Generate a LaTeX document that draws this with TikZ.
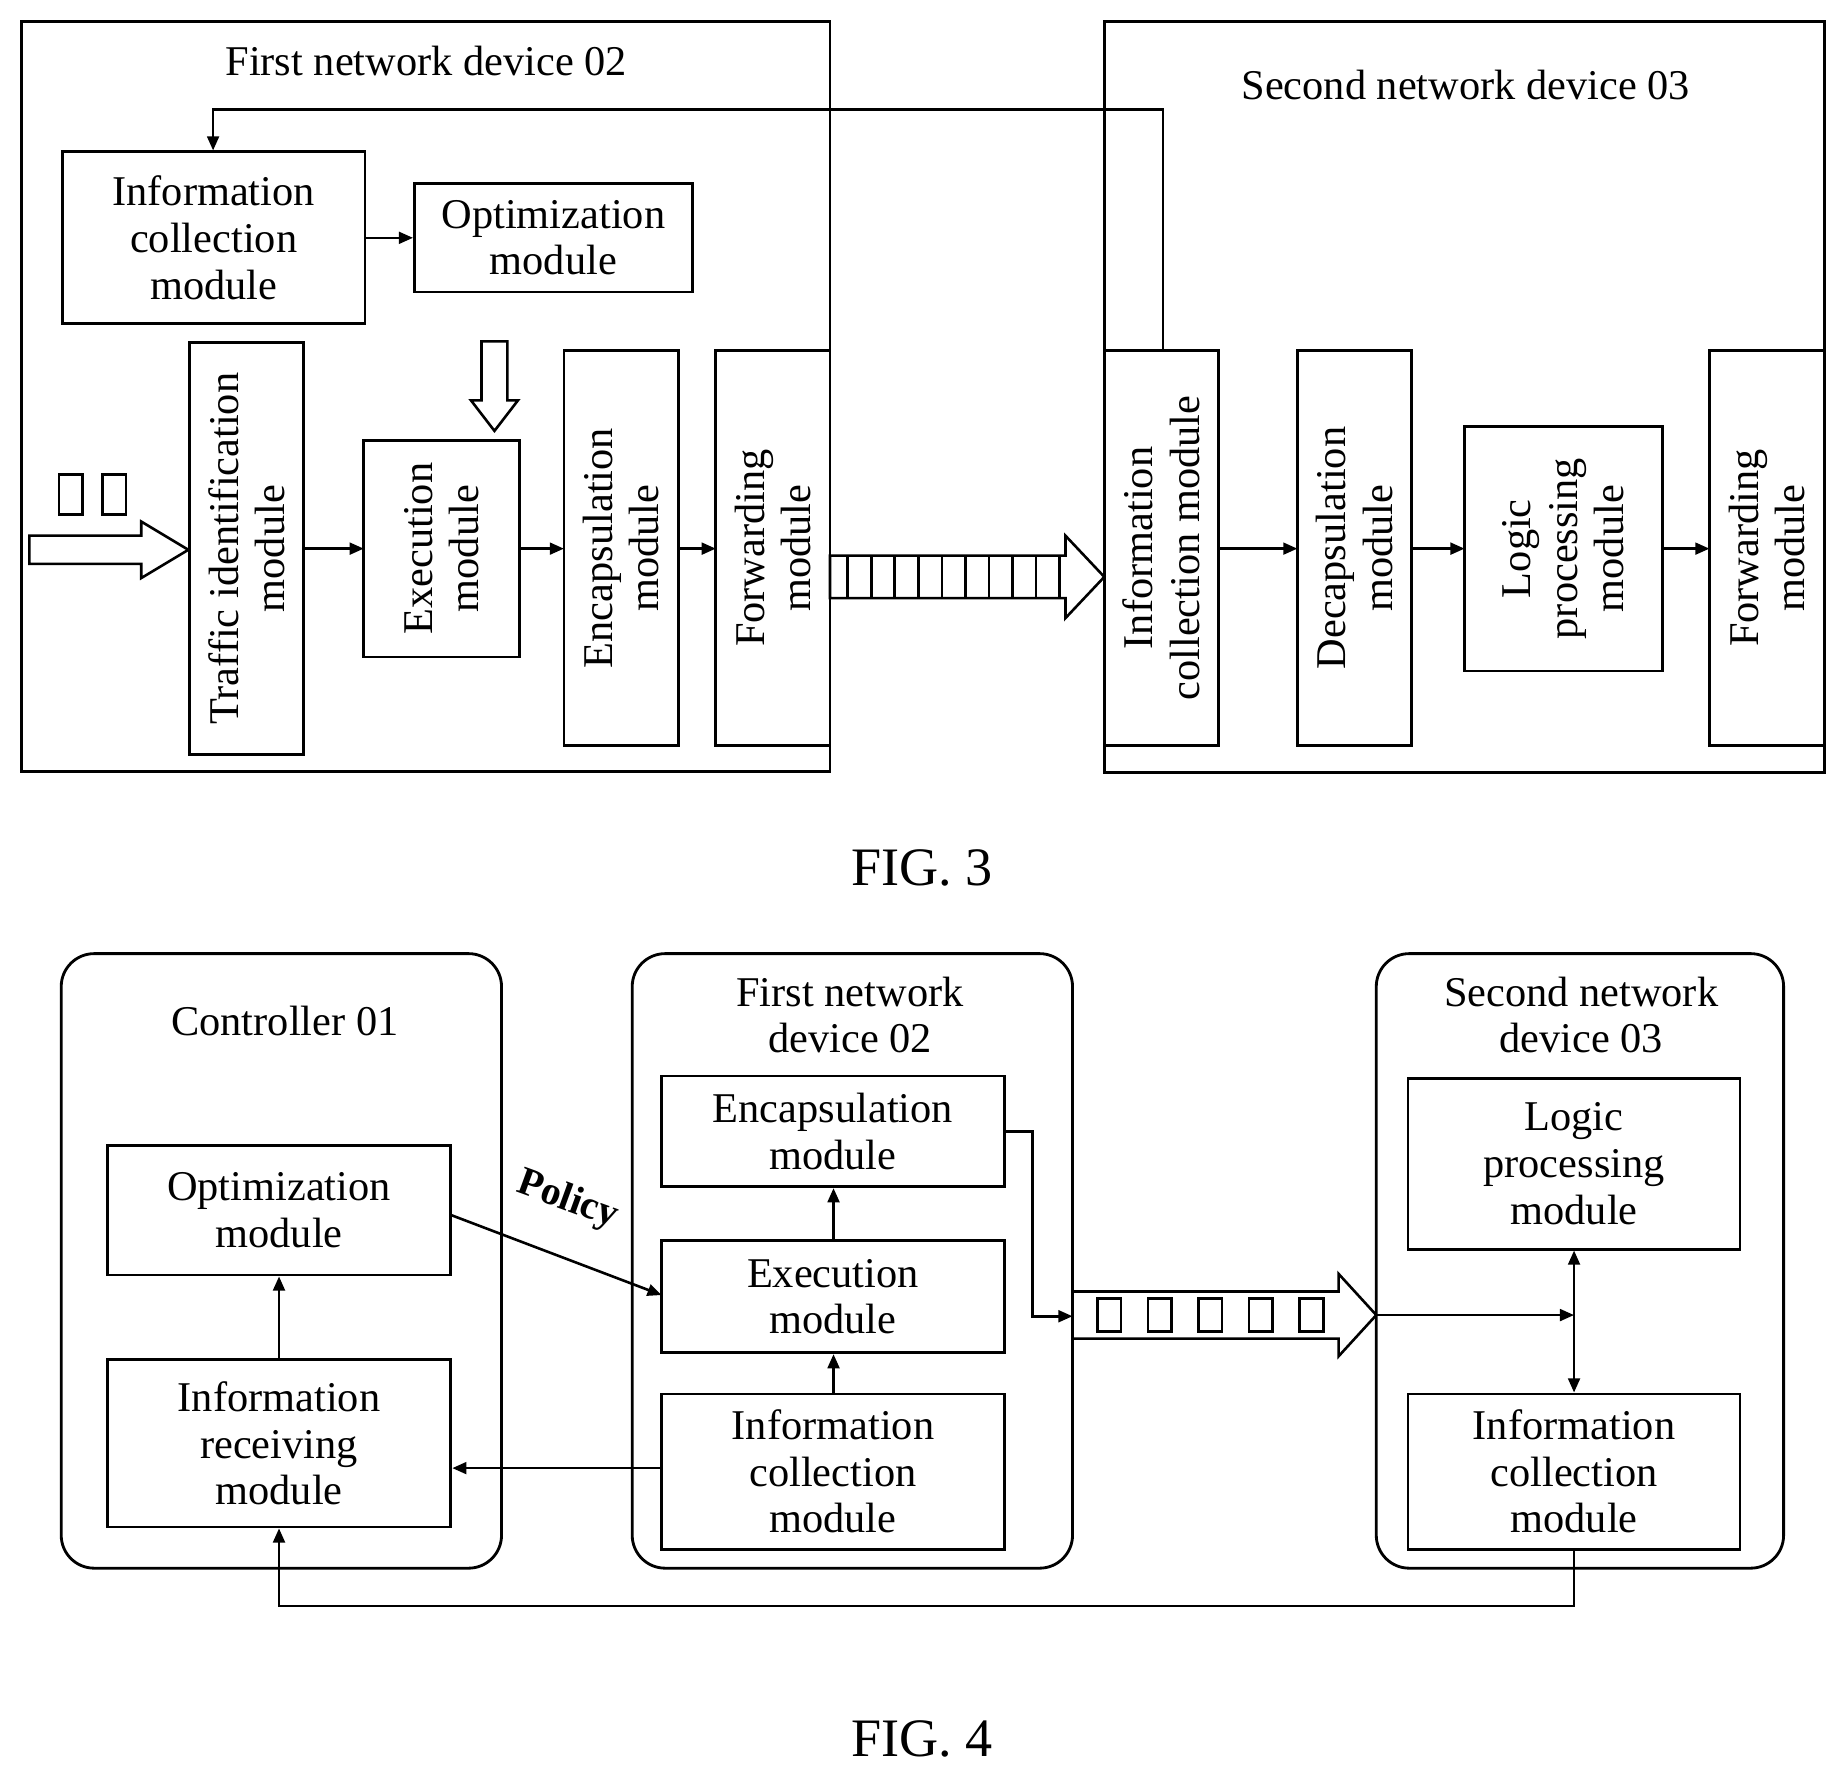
\documentclass[tikz,border=0pt]{standalone}
\usepackage{fontspec}
\setmainfont{Liberation Serif}
\usetikzlibrary{arrows.meta,fit}
\begin{document}
\begin{tikzpicture}[x=0.5pt,y=-0.5pt,
  box/.style={draw,line width=1.2pt,inner sep=0pt},
  rbox/.style={draw,line width=1.2pt,inner sep=0pt,rounded corners=14pt},
  txt/.style={font=\fontsize{18}{19.8}\selectfont,align=center},
  arr/.style={line width=1.1pt,-{Triangle[length=6pt,width=5pt]}},
  ln/.style={line width=1.1pt}]
\useasboundingbox (0,0) rectangle (1568,1512);
% ===== FIG 3 =====
\node[box,fit={(18,18)(705,655)}] (D1) {};
\node[txt] at (362,52) {First network device 02};
\node[box,fit={(938,18)(1550,656)}] (D2) {};
\node[txt] at (1245,72) {Second network device 03};
\node[box,fit={(53,129)(310,275)}] (ic1) {};
\node[txt] at (ic1) {Information\\collection\\module};
\node[box,fit={(352,156)(588,248)}] (opt1) {};
\node[txt] at (opt1) {Optimization\\module};
\node[box,fill=white,fit={(161,291)(258,641)}] (ti) {};
\node[txt,rotate=90] at (ti) {Traffic identification\\module};
\node[box,fit={(309,374)(441,558)}] (ex1) {};
\node[txt,rotate=90] at (ex1) {Execution\\module};
\node[box,fill=white,fit={(479,298)(576,633)}] (en1) {};
\node[txt,rotate=90] at (en1) {Encapsulation\\module};
\node[box,fill=white,fit={(608,298)(705,633)}] (fw1) {};
\node[txt,rotate=90] at (fw1) {Forwarding\\module};
\node[box,fill=white,fit={(938,298)(1035,633)}] (ic2) {};
\node[txt,rotate=90] at (ic2) {Information\\collection module};
\node[box,fill=white,fit={(1102,298)(1199,633)}] (de2) {};
\node[txt,rotate=90] at (de2) {Decapsulation\\module};
\node[box,fit={(1244,362)(1412,570)}] (lp2) {};
\node[txt,rotate=90] at (lp2) {Logic\\processing\\module};
\node[box,fill=white,fit={(1452,298)(1550,633)}] (fw2) {};
\node[txt,rotate=90] at (fw2) {Forwarding\\module};
\draw[arr] (ic1.east) -- (ic1.east -| opt1.west);
\draw[arr] (258,466) -- (309,466);
\draw[arr] (441,466) -- (479,466);
\draw[arr] (576,466) -- (608,466);
\draw[arr] (1035,466) -- (1102,466);
\draw[arr] (1199,466) -- (1244,466);
\draw[arr] (1412,466) -- (1452,466);
\coordinate (fbA) at (988,93); \coordinate (fbB) at (181,93);
\draw[arr] (ic2.north -| fbA) -- (fbA) -- (fbB) -- (ic1.north -| fbB);
% hollow down arrow
\draw[ln,fill=white] (409,290) -- (431,290) -- (431,340) -- (440,340) -- (420,366) -- (400,340) -- (409,340) -- cycle;
% input hollow arrow
\draw[ln,fill=white] (25,455) -- (120,455) -- (120,443) -- (160,467) -- (120,491) -- (120,479) -- (25,479) -- cycle;
\draw[ln] (50,403) rectangle (70,437);
\draw[ln] (87,403) rectangle (107,437);
% striped arrow
\draw[ln,fill=white] (705,472) -- (905,472) -- (905,455) -- (938,490) -- (905,525) -- (905,508) -- (705,508) -- cycle;
\foreach \i in {0,...,9} \draw[ln] (720+\i*20,472) -- (720+\i*20,508);
\node[font=\fontsize{23}{26}\selectfont] at (783,737) {FIG. 3};
% ===== FIG 4 =====
\node[rbox,fit={(52,810)(426,1332)}] (C) {};
\node[txt] at (242,867) {Controller 01};
\node[rbox,fit={(537,810)(911,1332)}] (F) {};
\node[txt] at (722,862) {First network\\device 02};
\node[rbox,fit={(1169,810)(1515,1332)}] (S) {};
\node[txt] at (1343,862) {Second network\\device 03};
\node[box,fit={(91,973)(383,1083)}] (opt) {};
\node[txt] at (opt) {Optimization\\module};
\node[box,fit={(91,1155)(383,1297)}] (rcv) {};
\node[txt] at (rcv) {Information\\receiving\\module};
\node[box,fit={(562,914)(853,1008)}] (enc) {};
\node[txt] at (enc) {Encapsulation\\module};
\node[box,fit={(562,1054)(853,1149)}] (exe) {};
\node[txt] at (exe) {Execution\\module};
\node[box,fit={(562,1184)(853,1316)}] (icf) {};
\node[txt] at (icf) {Information\\collection\\module};
\node[box,fit={(1196,916)(1478,1061)}] (lp) {};
\node[txt] at (lp) {Logic\\processing\\module};
\node[box,fit={(1196,1184)(1478,1316)}] (ics) {};
\node[txt] at (ics) {Information\\collection\\module};
\draw[arr] (rcv.north) -- (opt.south);
\draw[arr] (exe.north -| 708,0) -- (enc.south -| 708,0);
\draw[arr] (icf.north -| 708,0) -- (exe.south -| 708,0);
\draw[arr] (383,1032) -- (562,1100);
\node[font=\bfseries\fontsize{17}{19}\selectfont,rotate=-20] at (482,1020) {Policy};
\draw[arr] (icf.west |- 0,1247) -- (rcv.east |- 0,1247);
\coordinate (e1) at (877,961); \coordinate (e2) at (877,1118);
\draw[arr] (enc.east |- e1) -- (e1) -- (e2) -- (911,1118);
\draw[ln,fill=white] (911,1097) -- (1137,1097) -- (1137,1082) -- (1169,1117) -- (1137,1152) -- (1137,1137) -- (911,1137) -- cycle;
\foreach \i in {0,...,4} \draw[ln] (932+\i*43,1103) rectangle (952+\i*43,1131);
\coordinate (m) at (1337,1117);
\draw[arr] (1169,1117) -- (m);
\draw[line width=1.1pt,{Triangle[length=6pt,width=5pt]}-{Triangle[length=6pt,width=5pt]}] (lp.south -| m) -- (ics.north -| m);
\coordinate (b1) at (1337,1364); \coordinate (b2) at (237,1364);
\draw[arr] (ics.south -| b1) -- (b1) -- (b2) -- (rcv.south -| b2);
\node[font=\fontsize{23}{26}\selectfont] at (783,1477) {FIG. 4};
\end{tikzpicture}
\end{document}
